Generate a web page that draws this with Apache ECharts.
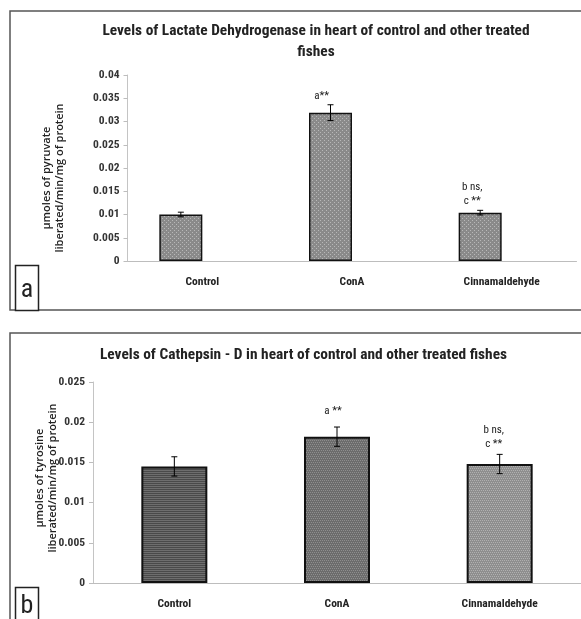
<!DOCTYPE html>
<html><head><meta charset="utf-8">
<script src="https://cdn.jsdelivr.net/npm/echarts@6/dist/echarts.min.js"></script>
<style>html,body{margin:0;padding:0;background:#fff}#c{width:581px;height:619px}</style>
</head><body><div id="c"></div>
<script>
// ---- data ----
const categories = ['Control', 'ConA', 'Cinnamaldehyde'];
const ldhValues = [0.0100, 0.0319, 0.0104];
const ldhErrors = [0.0005, 0.0017, 0.0005];
const ldhNotes = ['', 'a**', 'b ns,\nc **'];
const ldhTicks = [0, 0.005, 0.01, 0.015, 0.02, 0.025, 0.03, 0.035, 0.04];
const catValues = [0.0145, 0.0182, 0.0148];
const catErrors = [0.0012, 0.0012, 0.0012];
const catNotes = ['', 'a **', 'b ns,\nc **'];
const catTicks = [0, 0.005, 0.01, 0.015, 0.02, 0.025];

const FONT = '"Liberation Sans Narrow", "Roboto Condensed", "Open Sans", sans-serif';
const NAMEFONT = '"Open Sans", "DejaVu Sans", sans-serif';
const BAR_A = 43, BAR_B = 66;

function pattern(base, dot, kind) {
  const c = document.createElement('canvas');
  c.width = 4; c.height = 4;
  const g = c.getContext('2d');
  g.fillStyle = base; g.fillRect(0, 0, 4, 4);
  g.fillStyle = dot;
  if (kind === 'dots') { g.fillRect(0, 0, 1, 1); g.fillRect(2, 2, 1, 1); }
  else if (kind === 'hstripe') { g.fillRect(0, 0, 4, 1); g.fillRect(0, 2, 4, 1); }
  else { g.fillRect(0, 0, 1, 1); g.fillRect(2, 0, 1, 1); g.fillRect(1, 2, 1, 1); g.fillRect(3, 2, 1, 1); }
  return { image: c, repeat: 'repeat' };
}

const chart = echarts.init(document.getElementById('c'), null, { renderer: 'canvas' });

function xAxisFor(gi) {
  return {
    type: 'category', gridIndex: gi, data: categories,
    splitLine: { show: false },
    axisLine: { show: true, onZero: false, lineStyle: { color: '#bdbdbd', width: 1 } },
    axisTick: { show: false },
    axisLabel: { fontFamily: FONT, fontSize: 11.5, fontWeight: 'bold', color: '#222', margin: 15 }
  };
}
function yAxisFor(gi, ticks) {
  return {
    type: 'value', gridIndex: gi, min: ticks[0], max: ticks[ticks.length - 1],
    interval: ticks[1] - ticks[0],
    splitLine: { show: false },
    axisLine: { show: true, onZero: false, lineStyle: { color: '#c4c4c4', width: 1 } },
    axisTick: { show: true, length: 4, lineStyle: { color: '#bdbdbd' } },
    axisLabel: {
      formatter: v => String(+v.toFixed(4)),
      fontFamily: FONT, fontSize: 11.5, fontWeight: 'bold', color: '#333', margin: 8
    }
  };
}

function errorSeries(xi, yi, vals, errs, shift) {
  return {
    type: 'custom', xAxisIndex: xi, yAxisIndex: yi, z: 5,
    data: vals.map((v, i) => [i, v - errs[i], v + errs[i]]),
    renderItem: (params, api) => {
      const lo = api.coord([api.value(0), api.value(1)]);
      const hi = api.coord([api.value(0), api.value(2)]);
      const x = lo[0] + shift, w = 3;
      const st = { stroke: '#000', lineWidth: 1 };
      return { type: 'group', children: [
        { type: 'line', shape: { x1: x, y1: lo[1], x2: x, y2: hi[1] }, style: st },
        { type: 'line', shape: { x1: x - w, y1: lo[1], x2: x + w, y2: lo[1] }, style: st },
        { type: 'line', shape: { x1: x - w, y1: hi[1], x2: x + w, y2: hi[1] }, style: st }
      ]};
    }
  };
}
function noteSeries(xi, yi, vals, errs, notes, shift, dx, dy) {
  return {
    type: 'custom', xAxisIndex: xi, yAxisIndex: yi, z: 6,
    data: vals.map((v, i) => [i, v + errs[i]]),
    renderItem: (params, api) => {
      const i = params.dataIndex;
      const p = api.coord([api.value(0), api.value(1)]);
      return { type: 'text', x: p[0] + shift + dx[i], y: p[1] + dy[i], style: {
        text: notes[i], align: 'center', verticalAlign: 'bottom',
        font: 'normal 11px ' + FONT, fill: '#222', lineHeight: 14 } };
    }
  };
}

const ldhPat = pattern('#8a8a8a', '#b8b8b8', 'dots');
const catPats = [pattern('#4a4a4a', '#6e6e6e', 'hstripe'), pattern('#6c6c6c', '#8e8e8e', 'check'), pattern('#8e8e8e', '#b0b0b0', 'check')];

chart.setOption({
  animation: false,
  backgroundColor: '#fff',
  grid: [
    { left: 127.5, top: 75, width: 449, height: 186 },
    { left: 93, top: 382, width: 492, height: 201 }
  ],
  xAxis: [xAxisFor(0), xAxisFor(1)],
  yAxis: [yAxisFor(0, ldhTicks), yAxisFor(1, catTicks)],
  series: [
    { type: 'bar', xAxisIndex: 0, yAxisIndex: 0, barWidth: BAR_A, barGap: '0%',
      data: ldhValues,
      itemStyle: { color: ldhPat, borderColor: '#111', borderWidth: 1.5 } },
    { type: 'bar', xAxisIndex: 0, yAxisIndex: 0, barWidth: BAR_A, barGap: '0%', data: [] },
    errorSeries(0, 0, ldhValues, ldhErrors, -BAR_A / 2),
    noteSeries(0, 0, ldhValues, ldhErrors, ldhNotes, -BAR_A / 2, [0, -9, -8], [0, -2, -2]),
    { type: 'bar', xAxisIndex: 1, yAxisIndex: 1, barWidth: BAR_B,
      data: catValues.map((v, i) => ({ value: v, itemStyle: { color: catPats[i] } })),
      itemStyle: { borderColor: '#111', borderWidth: 2 } },
    errorSeries(1, 1, catValues, catErrors, 0),
    noteSeries(1, 1, catValues, catErrors, catNotes, 0, [0, -4, -6], [0, -9, -3])
  ],
  graphic: [
    { type: 'polyline', shape: { points: [[581, 11], [10, 11], [10, 310], [581, 310]] }, style: { stroke: '#555', lineWidth: 1.5, fill: null } },
    { type: 'polyline', shape: { points: [[581, 333], [10, 333], [10, 619]] }, style: { stroke: '#555', lineWidth: 1.5, fill: null } },
    { type: 'text', x: 316, y: 31, style: { text: 'Levels of Lactate Dehydrogenase in heart of control and other treated', align: 'center', verticalAlign: 'middle', font: 'bold 15.4px ' + FONT, fill: '#222' } },
    { type: 'text', x: 316, y: 52, style: { text: 'fishes', align: 'center', verticalAlign: 'middle', font: 'bold 15.4px ' + FONT, fill: '#222' } },
    { type: 'text', x: 303.5, y: 355, style: { text: 'Levels of Cathepsin - D in heart of control and other treated fishes', align: 'center', verticalAlign: 'middle', font: 'bold 15.4px ' + FONT, fill: '#222' } },
    { type: 'text', x: 53.5, y: 178, rotation: Math.PI / 2, style: { text: 'µmoles of pyruvate\nliberated/min/mg of protein', align: 'center', verticalAlign: 'middle', font: '600 11px ' + NAMEFONT, lineHeight: 13, fill: '#222' } },
    { type: 'text', x: 46, y: 478, rotation: Math.PI / 2, style: { text: 'µmoles of tyrosine\nliberated/min/mg of protein', align: 'center', verticalAlign: 'middle', font: '600 11px ' + NAMEFONT, lineHeight: 13, fill: '#222' } },
    { type: 'rect', shape: { x: 15.5, y: 265.5, width: 23, height: 45 }, style: { stroke: '#222', lineWidth: 1.5, fill: '#fff' } },
    { type: 'text', x: 27, y: 290, style: { text: 'a', align: 'center', verticalAlign: 'middle', font: '26px ' + FONT, fill: '#222' } },
    { type: 'rect', shape: { x: 15.5, y: 587.5, width: 23, height: 40 }, style: { stroke: '#222', lineWidth: 1.5, fill: '#fff' } },
    { type: 'text', x: 27, y: 606, style: { text: 'b', align: 'center', verticalAlign: 'middle', font: '26px ' + FONT, fill: '#222' } }
  ]
});
</script></body></html>
